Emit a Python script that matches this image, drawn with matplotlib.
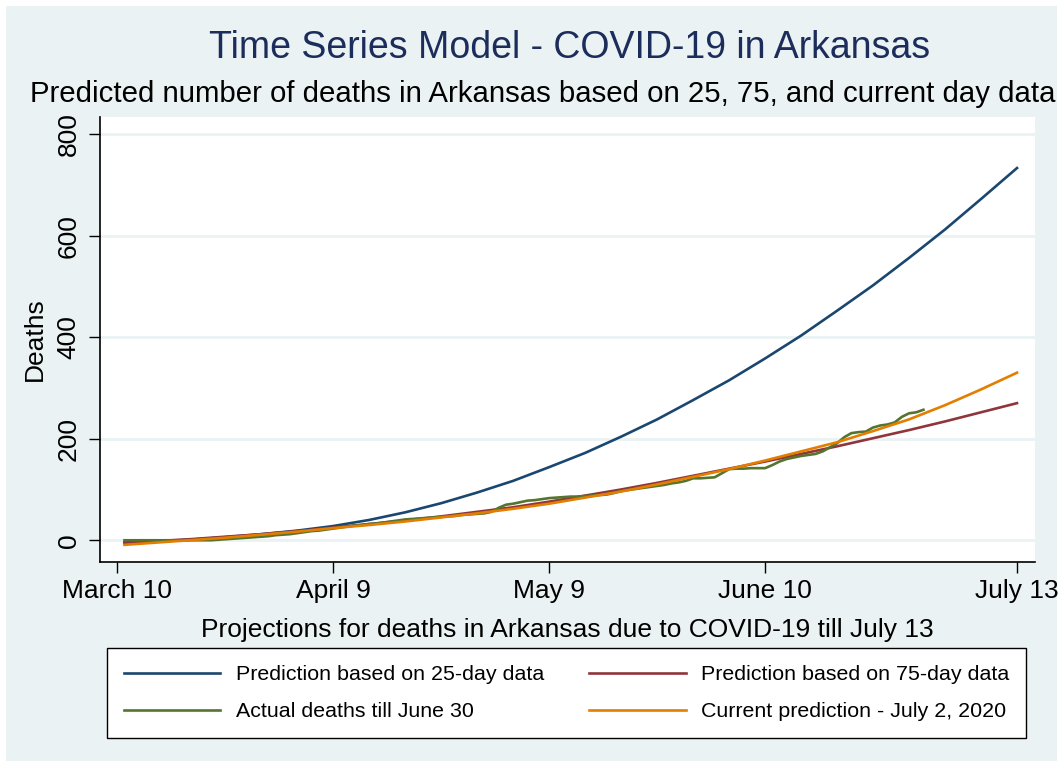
import matplotlib
matplotlib.use("Agg")
import matplotlib.pyplot as plt
from matplotlib.patches import Rectangle

plt.rcParams['font.family'] = ['Liberation Sans', 'DejaVu Sans']

# ---------------- data ----------------
pred_days = [1, 5, 10, 15, 20, 25, 30, 35, 40, 45, 50, 55, 60, 65, 70, 75,
             80, 85, 90, 95, 100, 105, 110, 115, 120, 125]
pred_25 = [-4, -2, 1, 6, 12, 19, 28, 40, 55, 73, 94, 117, 144, 172, 204, 238,
           276, 315, 358, 403, 452, 502, 556, 612, 672, 733]
pred_75 = [-5, -2, 2, 7, 12, 18, 25, 32, 39, 47, 56, 65, 76, 88, 100, 113,
           127, 141, 155, 170, 185, 201, 217, 234, 252, 270]
pred_now = [-9, -5, 0, 5, 11, 17, 24, 30, 37, 45, 53, 62, 72, 84, 96, 110,
            125, 140, 157, 175, 193, 215, 238, 266, 297, 330]

actual_days = list(range(1, 113))
actual = [0, 0, 0, 0, 0, 0, 0, 0, 0, 0,
          0, 0, 0, 1, 2, 3, 4, 5, 6, 7,
          8, 10, 11, 12, 14, 16, 18, 19, 21, 23,
          25, 27, 29, 30, 32, 33, 35, 37, 39, 41,
          42, 43, 44, 45, 46, 47, 48, 50, 51, 52,
          53, 56, 64, 70, 72, 75, 78, 79, 81, 83,
          84, 85, 86, 86, 87, 88, 89, 90, 93, 97,
          99, 101, 103, 105, 107, 109, 112, 114, 117, 122,
          122, 123, 124, 132, 140, 141, 141, 142, 142, 142,
          148, 155, 160, 163, 166, 168, 170, 175, 183, 191,
          203, 211, 213, 214, 222, 226, 228, 232, 243, 250,
          252, 257]

x_ticks = [0, 30, 60, 90, 125]
x_ticklabels = ["March 10", "April 9", "May 9", "June 10", "July 13"]
y_ticks = [0, 200, 400, 600, 800]

labels = ["Prediction based on 25-day data", "Prediction based on 75-day data",
          "Actual deaths till June 30", "Current prediction - July 2, 2020"]

# ---------------- styling ----------------
W, H = 1063, 767
BG = "#EAF2F3"
NAVY = "#1A476F"
MAROON = "#90353B"
GREEN = "#55752F"
ORANGE = "#E37E00"
TITLE_C = "#1C2D5C"

fig = plt.figure(figsize=(W / 100, H / 100), dpi=100)
fig.patch.set_facecolor("white")
fig.patches.append(Rectangle((6 / W, 6 / H), (W - 12) / W, (H - 12) / H,
                             transform=fig.transFigure, facecolor=BG,
                             edgecolor="none", zorder=-10))

ax = fig.add_axes([100 / W, (H - 562) / H, 935 / W, 445 / H])
ax.set_zorder(1)
ax.set_facecolor("white")

lw = 1.9
l1, = ax.plot(pred_days, pred_25, color=NAVY, lw=lw, zorder=3)
l2, = ax.plot(pred_days, pred_75, color=MAROON, lw=lw, zorder=3)
l3, = ax.plot(actual_days, actual, color=GREEN, lw=lw, zorder=3)
l4, = ax.plot(pred_days, pred_now, color=ORANGE, lw=lw, zorder=4)

ax.set_xlim(-2.4, 127.5)
ax.set_ylim(-42.8, 833.5)
ax.set_xticks(x_ticks)
ax.set_xticklabels(x_ticklabels, fontsize=19)
ax.set_yticks(y_ticks)
ax.set_yticklabels([str(v) for v in y_ticks], fontsize=19, rotation=90,
                   va="center")
ax.tick_params(axis="x", direction="out", length=8, width=1.0,
               color="black", pad=4)
ax.tick_params(axis="y", direction="out", length=8, width=1.0,
               color="black", pad=6)
ax.yaxis.grid(True, color=BG, lw=2.0, zorder=0)
ax.set_axisbelow(True)
for s in ["top", "right"]:
    ax.spines[s].set_visible(False)
for s in ["left", "bottom"]:
    ax.spines[s].set_linewidth(1.2)
    ax.spines[s].set_color("black")

ax.set_ylabel("Deaths", fontsize=19, labelpad=7)
ax.set_xlabel("Projections for deaths in Arkansas due to COVID-19 till July 13",
              fontsize=19, labelpad=11)

fig.text(570 / W, 1 - 48 / H, "Time Series Model - COVID-19 in Arkansas",
         fontsize=27, color=TITLE_C, ha="center", va="center")
fig.text(543 / W, 1 - 94 / H,
         "Predicted number of deaths in Arkansas based on 25, 75, and current day data",
         fontsize=21.2, color="black", ha="center", va="center")

# row-wise order in a 2-column legend
leg = fig.legend([l1, l3, l2, l4],
                 [labels[0], labels[2], labels[1], labels[3]], ncol=2,
                 loc="upper left",
                 bbox_to_anchor=(107 / W, 1 - 648 / H),
                 fontsize=15.4, frameon=True, fancybox=False,
                 edgecolor="black", facecolor="white", framealpha=1,
                 handlelength=4.5, handletextpad=0.72, borderaxespad=0,
                 borderpad=0.8, labelspacing=0.84, columnspacing=2.12)
leg.get_frame().set_linewidth(1.0)

fig.savefig("out.png", dpi=100, facecolor=fig.get_facecolor())
